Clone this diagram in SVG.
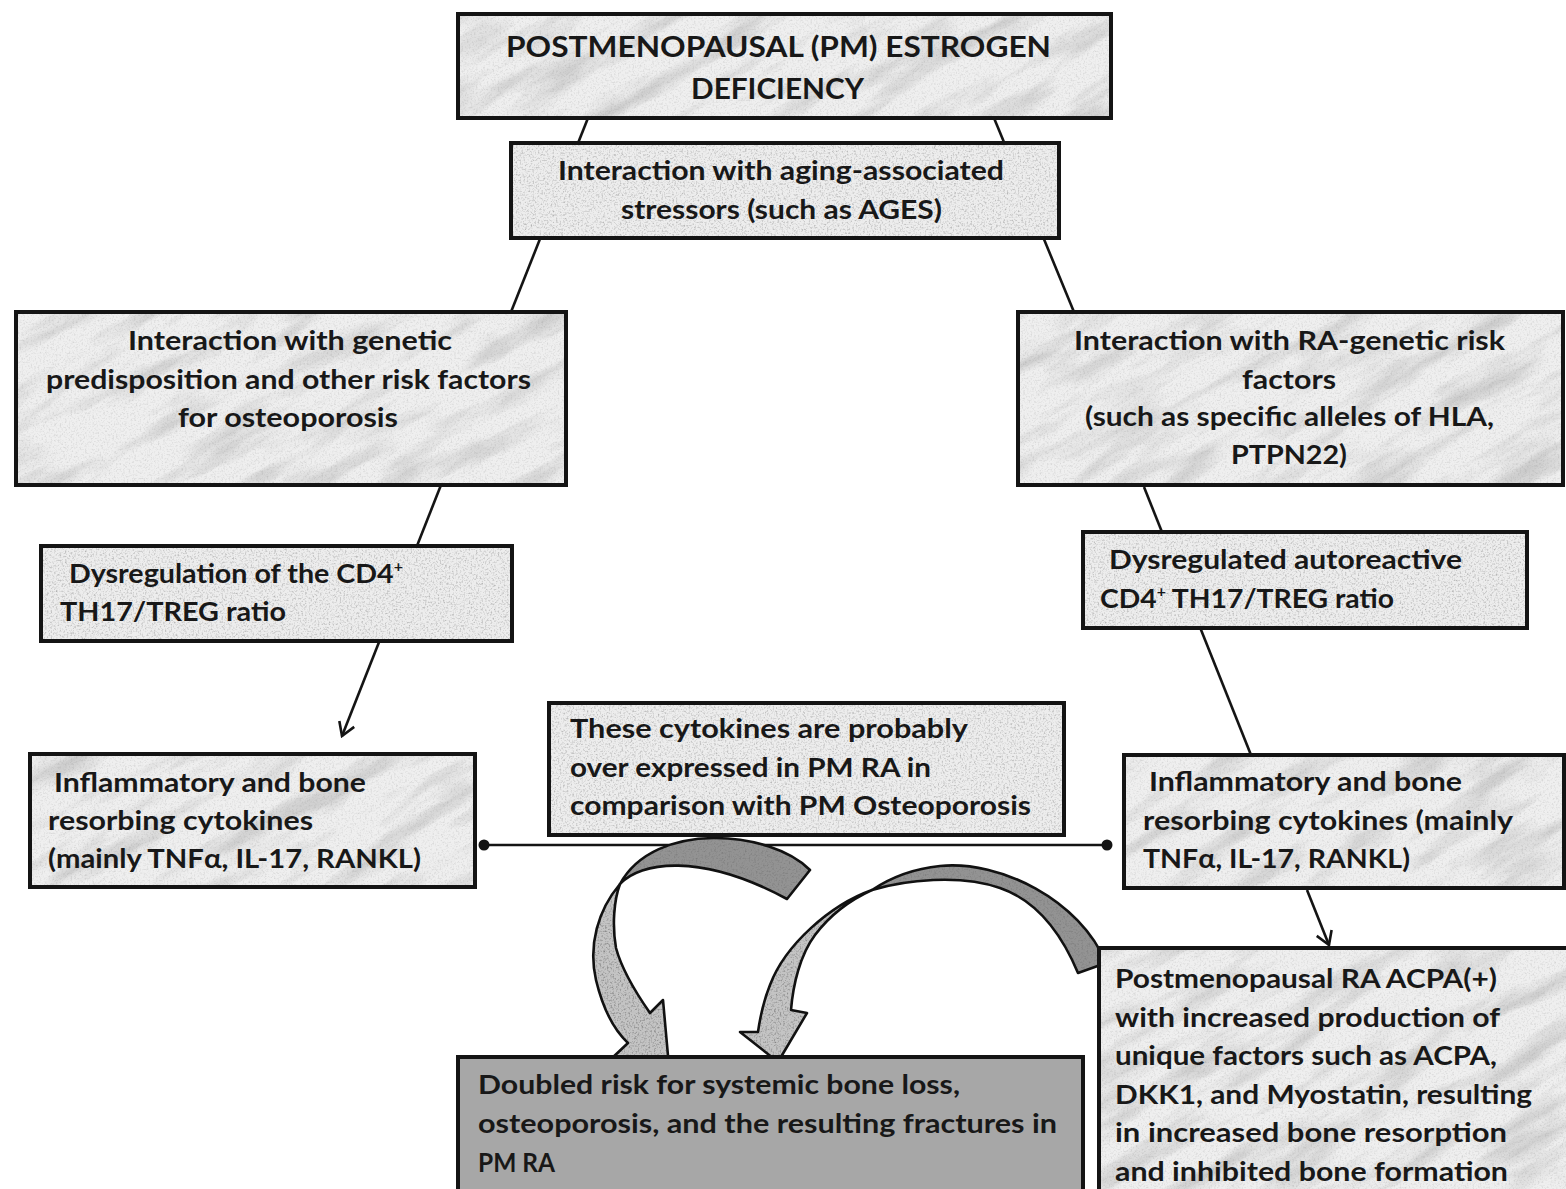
<svg xmlns="http://www.w3.org/2000/svg" width="1566" height="1189" viewBox="0 0 1566 1189">
<style>
.box{stroke:#141414;stroke-width:4}
.t{font-family:Lato,"Open Sans","Liberation Sans",sans-serif;font-weight:700;font-size:27px;fill:#181818}
.big{font-size:29px}
.ln{stroke:#141414;stroke-width:2.6;fill:none}
.blk{stroke:#111;stroke-width:2.6;stroke-linejoin:round}
</style>
<defs>
<filter id="grain" x="0" y="0" width="1" height="1">
<feTurbulence type="fractalNoise" baseFrequency="0.55" numOctaves="2" seed="4"/>
<feColorMatrix type="matrix" values="0 0 0 0 0.2  0 0 0 0 0.2  0 0 0 0 0.2  2.2 0 0 0 -1.05"/>
</filter>
<filter id="streak" x="0" y="0" width="1" height="1">
<feTurbulence type="fractalNoise" baseFrequency="0.009 0.04" numOctaves="5" seed="11"/>
<feColorMatrix type="matrix" values="0 0 0 0 0.4  0 0 0 0 0.4  0 0 0 0 0.4  2.2 0 0 0 -1.02"/>
</filter>
<pattern id="marble" patternUnits="userSpaceOnUse" x="0" y="0" width="1566" height="1189">
<rect width="1566" height="1189" fill="#efefef"/>
<g transform="rotate(-30 783 594)"><rect x="-500" y="-600" width="2600" height="2400" filter="url(#streak)" opacity="0.6"/></g>
<rect width="1566" height="1189" filter="url(#grain)" opacity="0.25"/>
</pattern>
<pattern id="granL" patternUnits="userSpaceOnUse" x="0" y="0" width="1566" height="1189">
<rect width="1566" height="1189" fill="#ededed"/>
<rect width="1566" height="1189" filter="url(#grain)" opacity="0.55"/>
</pattern>
<pattern id="granM" patternUnits="userSpaceOnUse" x="0" y="0" width="1566" height="1189">
<rect width="1566" height="1189" fill="#c4c4c4"/>
<rect width="1566" height="1189" filter="url(#grain)"/>
</pattern>
<pattern id="granD" patternUnits="userSpaceOnUse" x="0" y="0" width="1566" height="1189">
<rect width="1566" height="1189" fill="#939393"/>
<rect width="1566" height="1189" filter="url(#grain)"/>
</pattern>
<marker id="v" markerUnits="userSpaceOnUse" viewBox="-15 -10 17 20" refX="0" refY="0" markerWidth="17" markerHeight="20" orient="auto">
<path d="M-13,-8 L0,0 L-13,8" fill="none" stroke="#141414" stroke-width="2.6"/>
</marker>
</defs>
<rect width="1566" height="1189" fill="#ffffff"/>

<g id="connectors">
<line class="ln" x1="588" y1="118" x2="511" y2="312"/>
<line class="ln" x1="994" y1="118" x2="1074" y2="312"/>
<line class="ln" x1="441" y1="485" x2="342" y2="736" marker-end="url(#v)"/>
<line class="ln" x1="1144" y1="487" x2="1251" y2="755"/>
<line class="ln" x1="1307" y1="890" x2="1329" y2="945" marker-end="url(#v)"/>
<line class="ln" x1="484" y1="845" x2="1107" y2="845"/>
<circle cx="484" cy="845" r="5.5" fill="#141414"/>
<circle cx="1107" cy="845" r="5.5" fill="#141414"/>
<g id="curved-arrow-left">
<path class="blk" fill="url(#granM)" d="M620,884 C598,910 588,945 596,980 C602,1005 612,1028 628,1043 L610,1060 L670,1078 L663,1000 L650,1013 C636,993 622,970 616,948 C612,925 614,900 620,884 Z"/>
<path class="blk" fill="url(#granD)" d="M810,870 C770,830 655,820 620,884 C640,862 700,852 787,899 Z"/>
</g>
<g id="curved-arrow-right">
<path class="blk" fill="url(#granM)" d="M872,890 C830,905 785,945 770,985 C764,1000 760,1018 758,1032 L740,1032 L778,1062 L807,1013 L791,1010 C793,985 800,955 815,935 C830,915 850,900 872,890 Z"/>
<path class="blk" fill="url(#granD)" d="M1106,963 C1080,900 1000,860 940,866 C910,869 890,878 872,890 C905,880 960,874 1000,888 C1035,900 1060,930 1078,973 Z"/>
</g>
</g>

<g id="node-estrogen">
<rect class="box" x="458" y="14" width="653" height="104" fill="url(#marble)"/>
<text class="t big" x="506" y="57" textLength="545" lengthAdjust="spacingAndGlyphs">POSTMENOPAUSAL (PM) ESTROGEN</text>
<text class="t big" x="691" y="99" textLength="173" lengthAdjust="spacingAndGlyphs">DEFICIENCY</text>
</g>

<g id="node-aging">
<rect class="box" x="511" y="143" width="548" height="95" fill="url(#granL)"/>
<text class="t" x="558" y="180" textLength="446" lengthAdjust="spacingAndGlyphs">Interaction with aging-associated</text>
<text class="t" x="621" y="219" textLength="321" lengthAdjust="spacingAndGlyphs">stressors (such as AGES)</text>
</g>

<g id="node-genetic-osteo">
<rect class="box" x="16" y="312" width="550" height="173" fill="url(#marble)"/>
<text class="t" x="128" y="350" textLength="324" lengthAdjust="spacingAndGlyphs">Interaction with genetic</text>
<text class="t" x="46" y="389" textLength="485" lengthAdjust="spacingAndGlyphs">predisposition and other risk factors</text>
<text class="t" x="178" y="427" textLength="220" lengthAdjust="spacingAndGlyphs">for osteoporosis</text>
</g>

<g id="node-genetic-ra">
<rect class="box" x="1018" y="312" width="545" height="173" fill="url(#marble)"/>
<text class="t" x="1074" y="350" textLength="431" lengthAdjust="spacingAndGlyphs">Interaction with  RA-genetic risk</text>
<text class="t" x="1242" y="389" textLength="94" lengthAdjust="spacingAndGlyphs">factors</text>
<text class="t" x="1085" y="426" textLength="409" lengthAdjust="spacingAndGlyphs">(such as specific alleles of HLA,</text>
<text class="t" x="1231" y="464" textLength="116" lengthAdjust="spacingAndGlyphs">PTPN22)</text>
</g>

<g id="node-dysreg-left">
<rect class="box" x="41" y="546" width="471" height="95" fill="url(#granL)"/>
<text class="t" x="69" y="583" textLength="334" lengthAdjust="spacingAndGlyphs">Dysregulation of the CD4<tspan dy="-11" font-size="15">+</tspan></text>
<text class="t" x="60" y="621" textLength="226" lengthAdjust="spacingAndGlyphs">TH17/TREG ratio</text>
</g>

<g id="node-dysreg-right">
<rect class="box" x="1083" y="532" width="444" height="96" fill="url(#granL)"/>
<text class="t" x="1109" y="569" textLength="353" lengthAdjust="spacingAndGlyphs">Dysregulated autoreactive</text>
<text class="t" x="1100" y="608" textLength="294" lengthAdjust="spacingAndGlyphs">CD4<tspan dy="-11" font-size="15">+</tspan><tspan dy="11"> TH17/TREG ratio</tspan></text>
</g>

<g id="node-cytokines-left">
<rect class="box" x="30" y="754" width="445" height="133" fill="url(#marble)"/>
<text class="t" x="54" y="792" textLength="312" lengthAdjust="spacingAndGlyphs">Inflammatory and bone</text>
<text class="t" x="48" y="830" textLength="265" lengthAdjust="spacingAndGlyphs">resorbing cytokines</text>
<text class="t" x="48" y="868" textLength="373" lengthAdjust="spacingAndGlyphs">(mainly TNFα, IL-17, RANKL)</text>
</g>

<g id="node-overexpressed">
<rect class="box" x="549" y="703" width="515" height="132" fill="url(#granL)"/>
<text class="t" x="570" y="738" textLength="398" lengthAdjust="spacingAndGlyphs">These cytokines are  probably</text>
<text class="t" x="570" y="777" textLength="361" lengthAdjust="spacingAndGlyphs">over expressed in PM RA in</text>
<text class="t" x="570" y="815" textLength="461" lengthAdjust="spacingAndGlyphs">comparison with PM Osteoporosis</text>
</g>

<g id="node-cytokines-right">
<rect class="box" x="1124" y="755" width="440" height="133" fill="url(#marble)"/>
<text class="t" x="1149" y="791" textLength="313" lengthAdjust="spacingAndGlyphs">Inflammatory and bone</text>
<text class="t" x="1143" y="830" textLength="370" lengthAdjust="spacingAndGlyphs">resorbing cytokines (mainly</text>
<text class="t" x="1143" y="868" textLength="267" lengthAdjust="spacingAndGlyphs">TNFα, IL-17, RANKL)</text>
</g>

<g id="node-acpa">
<rect class="box" x="1099" y="948" width="480" height="260" fill="url(#marble)"/>
<text class="t" x="1115" y="988" textLength="382" lengthAdjust="spacingAndGlyphs">Postmenopausal RA ACPA(+)</text>
<text class="t" x="1115" y="1027" textLength="385" lengthAdjust="spacingAndGlyphs">with increased production of</text>
<text class="t" x="1115" y="1065" textLength="382" lengthAdjust="spacingAndGlyphs">unique factors such as ACPA,</text>
<text class="t" x="1115" y="1104" textLength="417" lengthAdjust="spacingAndGlyphs">DKK1, and Myostatin, resulting</text>
<text class="t" x="1115" y="1142" textLength="392" lengthAdjust="spacingAndGlyphs">in increased bone  resorption</text>
<text class="t" x="1115" y="1181" textLength="393" lengthAdjust="spacingAndGlyphs">and inhibited bone formation</text>
</g>

<g id="node-outcome">
<rect class="box" x="458" y="1057" width="625" height="150" fill="#a7a7a7"/>
<text class="t" x="478" y="1094" textLength="482" lengthAdjust="spacingAndGlyphs">Doubled risk for systemic bone loss,</text>
<text class="t" x="478" y="1133" textLength="579" lengthAdjust="spacingAndGlyphs">osteoporosis,  and the resulting fractures in</text>
<text class="t" x="478" y="1172" textLength="77" lengthAdjust="spacingAndGlyphs">PM RA</text>
</g>
</svg>
